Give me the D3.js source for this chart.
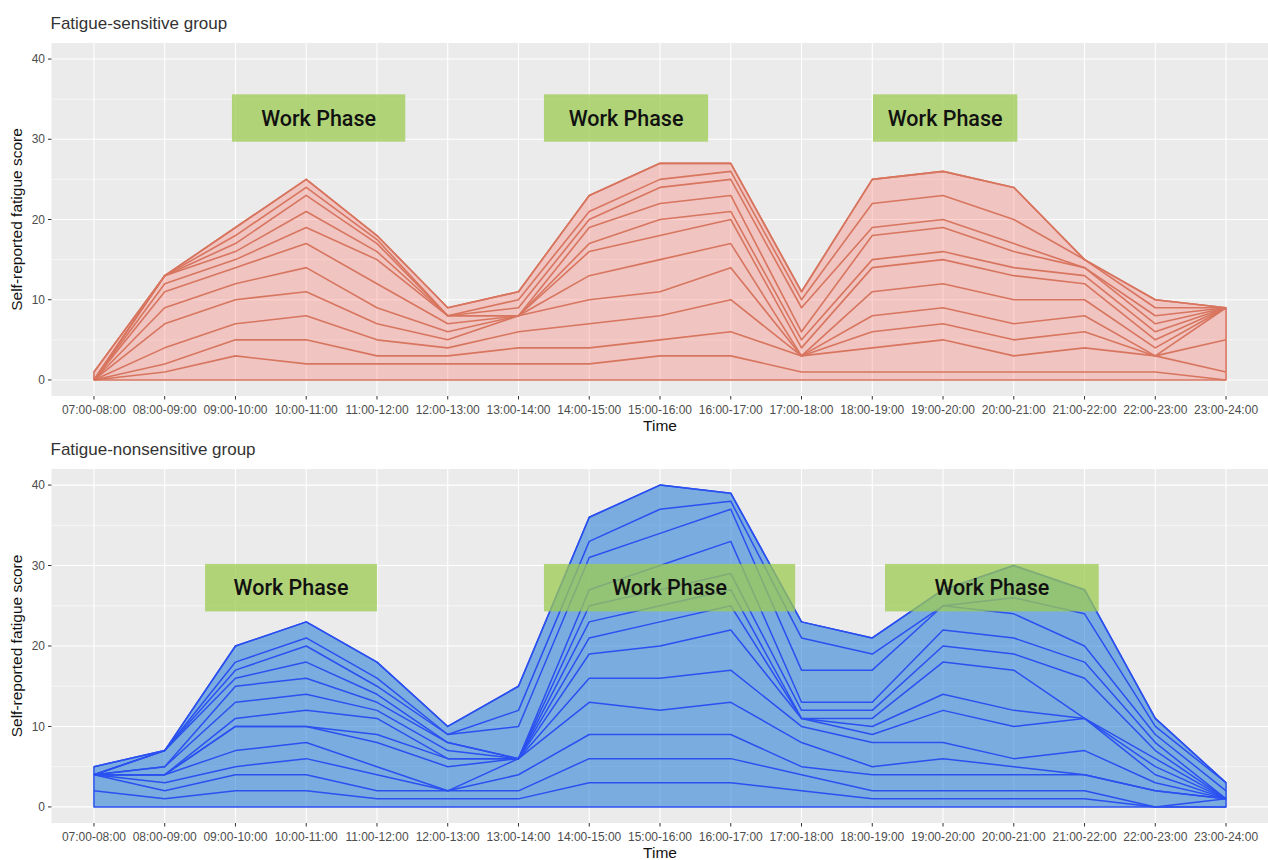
<!DOCTYPE html>
<html>
<head>
<meta charset="utf-8">
<script src="https://cdn.jsdelivr.net/npm/d3@7"></script>
<style>
	body { margin: 0; background: #fff; }
	text { font-family: "Liberation Sans", Arial, sans-serif; }
	.grid-major { stroke: #fff; stroke-width: 1.1; }
	.grid-minor { stroke: #fff; stroke-width: 0.55; }
	.tick-mark { stroke: #333; stroke-width: 1; }
	.tick-label { fill: #4d4d4d; font-size: 12px; }
	.panel-title { fill: #333; font-size: 17px; }
	.axis-title { fill: #111; font-size: 15.5px; }
	.phase text { font-family: Roboto, "Noto Sans", sans-serif; font-weight: 500; font-size: 21.5px; fill: #111; }
</style>
</head>
<body>
<svg id="chart" width="1268" height="860"></svg>
<script>

var times = ["07:00-08:00", "08:00-09:00", "09:00-10:00", "10:00-11:00", "11:00-12:00",
	"12:00-13:00", "13:00-14:00", "14:00-15:00", "15:00-16:00", "16:00-17:00",
	"17:00-18:00", "18:00-19:00", "19:00-20:00", "20:00-21:00", "21:00-22:00",
	"22:00-23:00", "23:00-24:00"];

var yTicks = [0, 10, 20, 30, 40];
var yMinorTicks = [5, 15, 25, 35];

// cumulative fatigue score lines, one array per line, values per time slot
var sensitiveLines = [
	[0, 1, 3, 2, 2, 2, 2, 2, 3, 3, 1, 1, 1, 1, 1, 1, 0],
	[0, 2, 5, 5, 3, 3, 4, 4, 5, 6, 3, 4, 5, 3, 4, 3, 1],
	[0, 4, 7, 8, 5, 4, 6, 7, 8, 10, 3, 6, 7, 5, 6, 3, 5],
	[0, 7, 10, 11, 7, 5, 8, 10, 11, 14, 3, 8, 9, 7, 8, 3, 9],
	[0, 9, 12, 14, 9, 6, 8, 13, 15, 17, 3, 11, 12, 10, 10, 4, 9],
	[0, 11, 14, 17, 12, 7, 8, 16, 18, 20, 4, 14, 15, 13, 12, 5, 9],
	[0, 12, 15, 19, 15, 8, 8, 17, 20, 21, 5, 15, 16, 14, 13, 6, 9],
	[0, 13, 16, 21, 16, 8, 8, 19, 22, 23, 6, 18, 19, 16, 14, 7, 9],
	[0, 13, 17, 23, 17, 8, 9, 20, 24, 25, 9, 19, 20, 17, 14, 8, 9],
	[0, 13, 18, 24, 17.5, 8, 10, 21, 25, 26, 10, 22, 23, 20, 15, 9, 9],
	[1, 13, 19, 25, 18, 9, 11, 23, 27, 27, 11, 25, 26, 24, 15, 10, 9]
];

var nonsensitiveLines = [
	[2, 1, 2, 2, 1, 1, 1, 3, 3, 3, 2, 1, 1, 1, 1, 0, 0],
	[4, 2, 4, 4, 2, 2, 2, 6, 6, 6, 4, 2, 2, 2, 2, 0, 1],
	[4, 3, 5, 6, 4, 2, 4, 9, 9, 9, 5, 4, 4, 4, 4, 2, 1],
	[4, 4, 7, 8, 5, 2, 6, 13, 12, 13, 8, 5, 6, 5, 4, 2, 1],
	[4, 4, 10, 10, 8, 5, 6, 16, 16, 17, 10, 8, 8, 6, 7, 3, 1],
	[4, 4, 10, 10, 9, 6, 6, 19, 20, 22, 11, 9, 12, 10, 11, 4, 1],
	[4, 4, 11, 12, 11, 6, 6, 21, 23, 25, 11, 10, 14, 12, 11, 5, 1],
	[4, 5, 13, 14, 12, 7, 6, 23, 25, 27, 11, 11, 18, 17, 11, 6, 1],
	[4, 5, 15, 16, 13, 8, 6, 25, 27, 29, 12, 12, 20, 19, 16, 7, 1],
	[4, 7, 16, 18, 14, 8, 6, 27, 30, 33, 13, 13, 22, 21, 18, 8, 1],
	[4, 7, 17, 20, 15, 9, 10, 31, 34, 37, 17, 17, 25, 24, 20, 9, 2],
	[4, 7, 18, 21, 16, 9, 12, 33, 37, 38, 21, 19, 25, 26, 24, 10, 3],
	[5, 7, 20, 23, 18, 10, 15, 36, 40, 39, 23, 21, 27, 30, 27, 11, 3]
];

// work phase labels: [start slot, end slot] and [low, high] score
var sensitivePhases = [[1.95, 4.40], [6.36, 8.68], [11.01, 13.05]];
var sensitivePhaseBand = [29.7, 35.6];
var nonsensitivePhases = [[1.57, 4.00], [6.36, 9.91], [11.18, 14.20]];
var nonsensitivePhaseBand = [24.3, 30.2];


var svg = d3.select("#chart");

var left = 51.5,
	right = 1268.5;

drawPanel({
	title: "Fatigue-sensitive group",
	top: 43,
	bottom: 396,
	lines: sensitiveLines,
	phases: sensitivePhases,
	band: sensitivePhaseBand,
	fill: "rgba(248, 118, 109, 0.33)",
	stroke: "#d8755f",
	strokeWidth: 1.6
});

drawPanel({
	title: "Fatigue-nonsensitive group",
	top: 469,
	bottom: 823,
	lines: nonsensitiveLines,
	phases: nonsensitivePhases,
	band: nonsensitivePhaseBand,
	fill: "rgba(30, 120, 215, 0.55)",
	stroke: "#2a50f0",
	strokeWidth: 1.5
});


function drawPanel(p) {

	var x = d3.scalePoint()
	.domain(times)
	.range([left, right])
	.padding(0.6);

	var y = d3.scaleLinear()
	.domain([-2, 42])
	.range([p.bottom, p.top]);

	// slot index -> pixel, for the phase boxes
	var xi = function (i) {
		return x(times[0]) + i * x.step();
	};

	var g = svg.append("g");

	g.append("rect")
	.attr("x", left)
	.attr("y", p.top)
	.attr("width", right - left)
	.attr("height", p.bottom - p.top)
	.attr("fill", "#ebebeb");

	g.selectAll("line.grid-minor")
	.data(yMinorTicks)
	.enter()
	.append("line")
	.attr("class", "grid-minor")
	.attr("x1", left)
	.attr("x2", right)
	.attr("y1", function (d) { return y(d); })
	.attr("y2", function (d) { return y(d); });

	g.selectAll("line.grid-y")
	.data(yTicks)
	.enter()
	.append("line")
	.attr("class", "grid-major grid-y")
	.attr("x1", left)
	.attr("x2", right)
	.attr("y1", function (d) { return y(d); })
	.attr("y2", function (d) { return y(d); });

	g.selectAll("line.grid-x")
	.data(times)
	.enter()
	.append("line")
	.attr("class", "grid-major grid-x")
	.attr("x1", function (d) { return x(d); })
	.attr("x2", function (d) { return x(d); })
	.attr("y1", p.top)
	.attr("y2", p.bottom);

	// envelope of the highest line, filled down to zero
	var topLine = p.lines[p.lines.length - 1];

	var area = d3.area()
	.x(function (d, i) { return x(times[i]); })
	.y0(y(0))
	.y1(function (d) { return y(d); });

	g.append("path")
	.datum(topLine)
	.attr("d", area)
	.attr("fill", p.fill)
	.attr("stroke", p.stroke)
	.attr("stroke-width", p.strokeWidth)
	.attr("stroke-linejoin", "round");

	var line = d3.line()
	.x(function (d, i) { return x(times[i]); })
	.y(function (d) { return y(d); });

	g.selectAll("path.level")
	.data(p.lines)
	.enter()
	.append("path")
	.attr("class", "level")
	.attr("d", line)
	.attr("fill", "none")
	.attr("stroke", p.stroke)
	.attr("stroke-width", p.strokeWidth)
	.attr("stroke-linejoin", "round");

	// axes
	g.selectAll("line.xtick")
	.data(times)
	.enter()
	.append("line")
	.attr("class", "tick-mark xtick")
	.attr("x1", function (d) { return x(d); })
	.attr("x2", function (d) { return x(d); })
	.attr("y1", p.bottom)
	.attr("y2", p.bottom + 3.5);

	g.selectAll("text.xlabel")
	.data(times)
	.enter()
	.append("text")
	.attr("class", "tick-label xlabel")
	.attr("x", function (d) { return x(d); })
	.attr("y", p.bottom + 17.5)
	.attr("text-anchor", "middle")
	.text(function (d) { return d; });

	g.selectAll("line.ytick")
	.data(yTicks)
	.enter()
	.append("line")
	.attr("class", "tick-mark ytick")
	.attr("x1", left - 3.5)
	.attr("x2", left)
	.attr("y1", function (d) { return y(d); })
	.attr("y2", function (d) { return y(d); });

	g.selectAll("text.ylabel")
	.data(yTicks)
	.enter()
	.append("text")
	.attr("class", "tick-label ylabel")
	.attr("x", left - 6.5)
	.attr("y", function (d) { return y(d); })
	.attr("dy", "0.35em")
	.attr("text-anchor", "end")
	.text(function (d) { return d; });

	g.append("text")
	.attr("class", "panel-title")
	.attr("x", left - 1)
	.attr("y", p.top - 14)
	.text(p.title);

	g.append("text")
	.attr("class", "axis-title")
	.attr("x", (left + right) / 2)
	.attr("y", p.bottom + 35)
	.attr("text-anchor", "middle")
	.text("Time");

	g.append("text")
	.attr("class", "axis-title")
	.attr("text-anchor", "middle")
	.attr("transform", "translate(" + 22 + "," + (p.top + p.bottom) / 2 + ") rotate(-90)")
	.text("Self-reported fatigue score");

	// work phase labels
	var phaseG = g.selectAll("g.phase")
	.data(p.phases)
	.enter()
	.append("g")
	.attr("class", "phase");

	phaseG
	.append("rect")
	.attr("x", function (d) { return xi(d[0]); })
	.attr("width", function (d) { return xi(d[1]) - xi(d[0]); })
	.attr("y", y(p.band[1]))
	.attr("height", y(p.band[0]) - y(p.band[1]))
	.attr("fill", "rgb(156, 203, 80)")
	.attr("fill-opacity", 0.75);

	phaseG
	.append("text")
	.attr("x", function (d) { return (xi(d[0]) + xi(d[1])) / 2; })
	.attr("y", y((p.band[0] + p.band[1]) / 2))
	.attr("dy", "0.36em")
	.attr("text-anchor", "middle")
	.text("Work Phase");
}

</script>
</body>
</html>
